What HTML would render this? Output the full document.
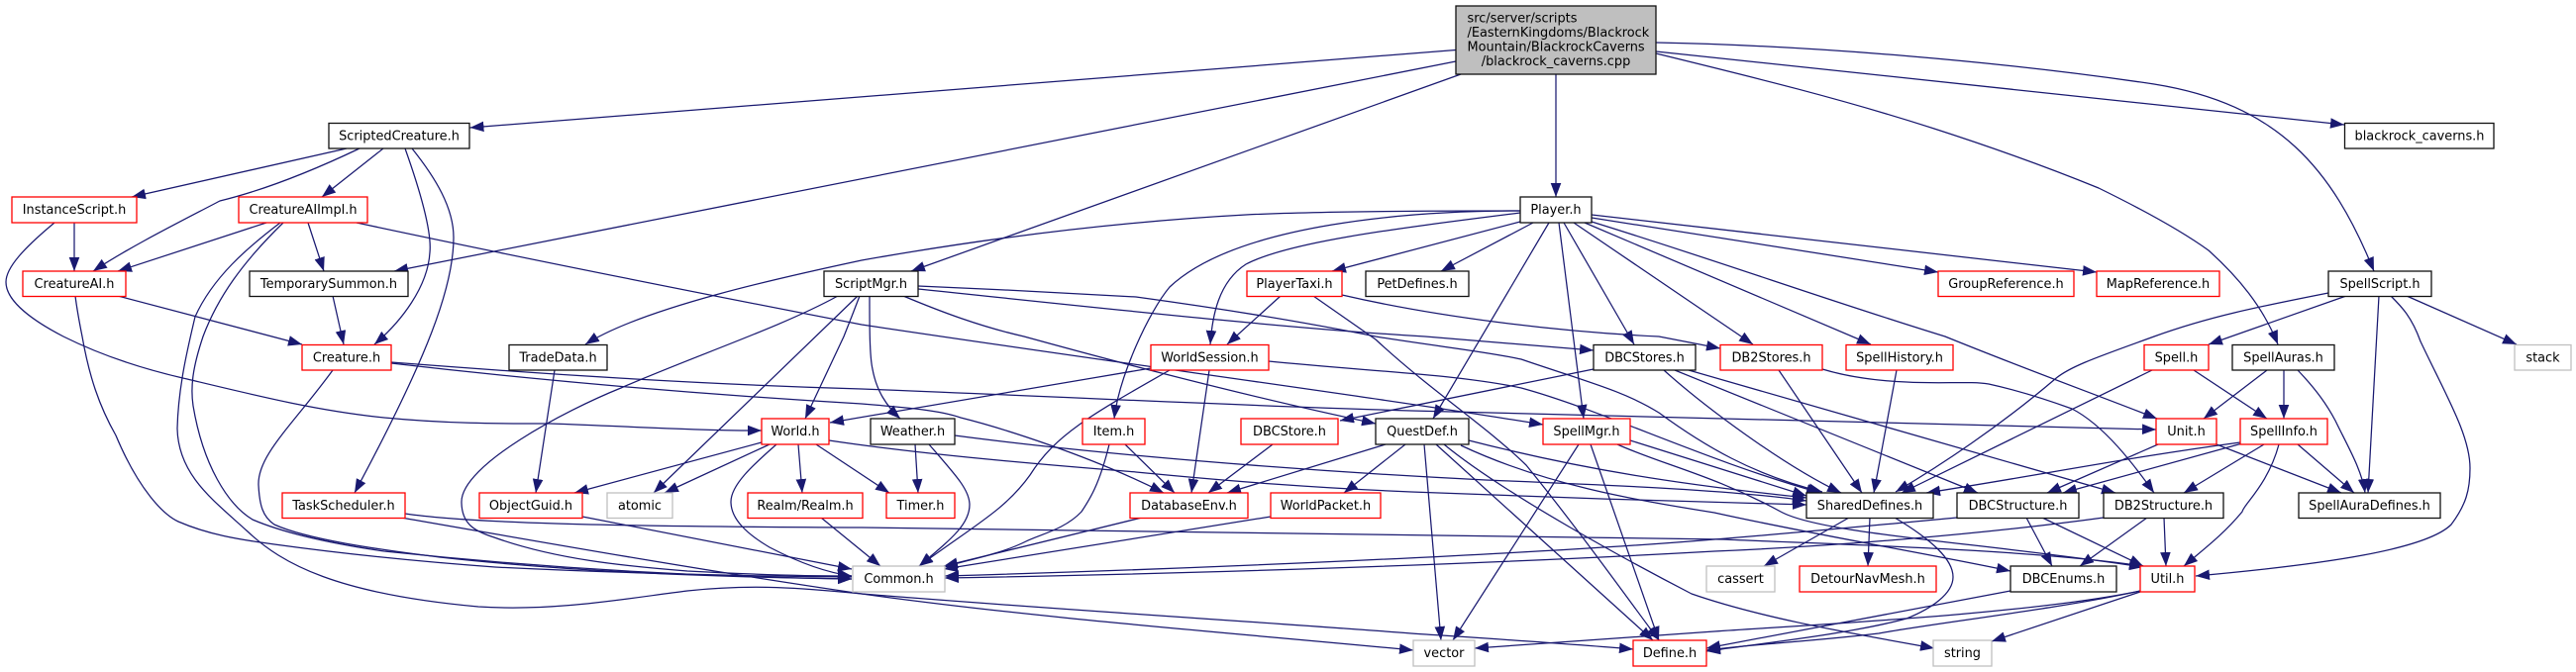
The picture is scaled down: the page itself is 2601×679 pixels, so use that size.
<!DOCTYPE html>
<html>
<head>
<meta charset="utf-8">
<title>blackrock_caverns.cpp include graph</title>
<style>
html,body{margin:0;padding:0;background:#fff;width:2601px;height:679px;overflow:hidden}
svg{display:block}
.e path{fill:none;stroke:#191970;stroke-width:1.25;marker-end:url(#a)}
rect{fill:#fff;stroke-width:1.3}
.r{stroke:#f00}.k{stroke:#111}.g{stroke:#bfbfbf}
text{font-family:"DejaVu Sans",sans-serif;font-size:12.9px;fill:#000;text-anchor:middle}
</style>
</head>
<body>
<svg width="2601" height="679" viewBox="0 0 2601 679" xmlns="http://www.w3.org/2000/svg">
<defs>
<marker id="a" markerUnits="userSpaceOnUse" markerWidth="16" markerHeight="13" refX="14" refY="6" orient="auto">
<polygon points="0,0.7 14,6 0,11.3" fill="#191970"/>
</marker>
</defs>
<g class="e">
<path d="M1470 50.5L474.5 129"/>
<path d="M1470 62L398 274"/>
<path d="M1475 75L920 274"/>
<path d="M1571 75L1571 199"/>
<path d="M1672 52L2367 126"/>
<path d="M1672 43C1830 46 2020 62 2175 85C2300 105 2355 170 2397 274"/>
<path d="M1672 54C1770 78 1860 100 1953 130C2015 150 2070 170 2119 190C2170 215 2205 235 2230 253C2260 280 2285 310 2300 348"/>
<path d="M350 150L133 199"/>
<path d="M363 150C300 180 255 195 222 203C180 225 130 250 94 274"/>
<path d="M387 150L325 199"/>
<path d="M409 150C425 195 436 235 434 255C432 290 405 325 378 348"/>
<path d="M416 150C440 180 458 210 458 240C458 290 432 360 358 498"/>
<path d="M75 225L75 274"/>
<path d="M55 225C25 250 6 270 6 285C6 305 35 325 64 340C100 358 140 372 189 383C260 400 320 415 388 422C450 428 500 428 555 428C640 431 700 435 769 435"/>
<path d="M269 225L119 274"/>
<path d="M311 225L327 274"/>
<path d="M286 225C245 265 220 300 205 340C195 370 192 390 195 410C205 470 230 510 255 525C290 540 340 550 388 557C540 573 700 583 860 585"/>
<path d="M283 225C250 250 215 280 197 320C190 350 180 390 179 433C180 480 215 505 250 537C285 570 340 600 483 613C560 618 630 605 694 597C760 590 810 594 870 600C1050 615 1300 630 1425 640C1500 645 1580 650 1649 656"/>
<path d="M360 225C500 255 700 295 870 328C1150 370 1380 400 1558 429"/>
<path d="M76 299C78 315 80 325 83 340C90 380 100 410 117 440C140 495 165 520 180 527C210 540 240 545 277 550C350 560 430 568 500 573C620 579 740 582 860 583"/>
<path d="M119 299L305 348"/>
<path d="M336 299L347 348"/>
<path d="M336 374C295 430 260 460 261 490C262 510 265 522 277 530C310 545 380 555 444 563C580 578 720 583 860 585"/>
<path d="M395 366C550 378 700 388 870 393C1100 402 1250 410 1425 415C1650 420 1900 428 2177 434"/>
<path d="M395 367C550 385 700 398 870 408C920 412 950 415 970 422C1010 432 1100 460 1175 498"/>
<path d="M560 374L541 498"/>
<path d="M1535 213C1400 213 1320 214 1258 217C1130 224 1000 240 870 263C800 278 650 310 591 348"/>
<path d="M846 299C790 330 700 360 627 392C570 415 466 470 466 507C466 530 480 537 499 543C560 565 630 572 694 577C750 580 810 582 860 582"/>
<path d="M866 299L660 498"/>
<path d="M868 299C860 320 852 340 852 340L813 423"/>
<path d="M878 299C878 330 878 360 881 373C885 395 895 410 909 423"/>
<path d="M912 299C950 315 990 330 1034 340C1150 372 1280 405 1389 428"/>
<path d="M927 292C1100 310 1300 332 1439 340C1500 345 1560 350 1609 354"/>
<path d="M927 289C1000 292 1100 297 1147 300C1220 310 1300 322 1389 340C1450 350 1500 355 1536 363C1600 385 1640 395 1675 417C1720 450 1770 480 1840 497"/>
<path d="M1293 299L1239 348"/>
<path d="M1355 298C1450 320 1570 335 1675 340L1737 352"/>
<path d="M1326 299L1389 343C1445 395 1500 430 1541 470C1590 530 1640 600 1675 647"/>
<path d="M1535 215C1400 232 1300 245 1258 267C1230 285 1224 320 1222 348"/>
<path d="M1535 213C1430 213 1250 225 1181 290C1160 315 1130 380 1125 423"/>
<path d="M1535 224L1345 274"/>
<path d="M1548 225L1455 274"/>
<path d="M1564 225L1447 423"/>
<path d="M1574 225L1599 423"/>
<path d="M1579 225L1650 348"/>
<path d="M1589 225L1770 348"/>
<path d="M1600 225L1889 348"/>
<path d="M1607 224C1730 262 1850 305 1964 340C2050 375 2120 400 2178 423"/>
<path d="M1607 220L1957 275"/>
<path d="M1607 217L2117 275"/>
<path d="M2351 296C2280 310 2230 320 2175 340C2120 360 2090 370 2075 383C2020 430 1960 470 1914 497"/>
<path d="M2369 299L2230 348"/>
<path d="M2402 299L2391 498"/>
<path d="M2414 299C2425 310 2435 320 2444 345C2470 400 2494 440 2494 473C2494 495 2490 510 2475 530C2450 555 2350 570 2217 582"/>
<path d="M2430 299L2541 348"/>
<path d="M2173 374L1920 498"/>
<path d="M2215 374L2289 423"/>
<path d="M2289 374L2225 423"/>
<path d="M2306 374L2306 423"/>
<path d="M2320 374C2340 395 2350 410 2358 425C2370 450 2385 475 2388 498"/>
<path d="M2238 449L2364 498"/>
<path d="M2179 449L2067 498"/>
<path d="M2262 447C2150 462 2060 480 1945 498"/>
<path d="M2264 448L2083 498"/>
<path d="M2286 449L2205 498"/>
<path d="M2301 449C2290 490 2265 510 2264 517C2245 540 2225 555 2205 572"/>
<path d="M2320 449L2377 498"/>
<path d="M1796 374L1880 498"/>
<path d="M1840 373C1870 382 1900 385 1925 386C1960 388 1990 385 2008 388C2040 395 2070 405 2092 413C2125 430 2155 470 2175 498"/>
<path d="M1915 374L1892 498"/>
<path d="M1609 373L1353 425"/>
<path d="M1680 374C1720 410 1800 470 1859 498"/>
<path d="M1691 374L1997 498"/>
<path d="M1705 374L2136 498"/>
<path d="M1162 372L838 427"/>
<path d="M1181 374C1100 420 1065 440 1040 480C1015 515 985 530 928 572"/>
<path d="M1221 374L1203 498"/>
<path d="M1281 365C1380 375 1470 378 1536 392C1620 415 1720 465 1838 498"/>
<path d="M924 449L927 498"/>
<path d="M938 449C965 480 979 495 979 510C979 530 960 545 928 572"/>
<path d="M964 440C1100 458 1300 475 1500 485C1620 490 1750 495 1824 506"/>
<path d="M1136 449L1186 498"/>
<path d="M1120 449C1110 490 1100 505 1092 517C1075 535 1050 540 1036 547C1010 560 980 565 953 573"/>
<path d="M1285 449L1220 498"/>
<path d="M1399 449L1239 498"/>
<path d="M1419 449L1357 498"/>
<path d="M1438 449L1455 647"/>
<path d="M1450 449L1669 647"/>
<path d="M1458 449C1520 500 1650 570 1708 600C1780 625 1870 640 1953 655"/>
<path d="M1483 445C1600 475 1700 490 1824 503"/>
<path d="M1475 450C1560 490 1650 505 1731 518C1830 540 1950 560 2030 577"/>
<path d="M837 445C950 462 1100 473 1147 477C1250 487 1330 493 1425 497C1550 502 1700 507 1824 510"/>
<path d="M409 519C470 528 600 532 870 533C1200 537 1500 540 1740 545C1850 550 2050 555 2164 572"/>
<path d="M1633 449C1680 470 1730 480 1798 517C1840 540 2000 548 2164 573"/>
<path d="M405 523C560 550 700 575 870 600C1050 625 1250 640 1427 657"/>
<path d="M588 522L860 575"/>
<path d="M769 447L580 498"/>
<path d="M777 449L671 498"/>
<path d="M784 449C760 470 738 490 738 507C738 525 755 540 777 553C800 565 830 578 860 582"/>
<path d="M806 449L810 498"/>
<path d="M824 449L898 498"/>
<path d="M829 523L889 572"/>
<path d="M1153 523L953 572"/>
<path d="M1283 522L953 575"/>
<path d="M1594 449L1467 647"/>
<path d="M1606 449L1675 647"/>
<path d="M1646 445L1824 501"/>
<path d="M1867 523L1781 572"/>
<path d="M1888 523L1886 572"/>
<path d="M1913 523C1950 545 1972 565 1972 583C1972 600 1950 615 1925 625C1870 640 1780 650 1723 658"/>
<path d="M1976 523C1900 530 1820 538 1731 545C1550 560 1200 575 954 582"/>
<path d="M2124 523C2000 540 1850 552 1731 557C1500 570 1200 580 954 584"/>
<path d="M2046 523L2072 572"/>
<path d="M2062 523L2164 572"/>
<path d="M2168 523L2100 572"/>
<path d="M2185 523L2187 572"/>
<path d="M2030 597L1723 655"/>
<path d="M2161 597C2050 620 1850 630 1731 638L1489 655"/>
<path d="M2161 597C2080 615 1950 630 1897 640C1830 648 1780 650 1723 657"/>
<path d="M2161 598L2011 648"/>
</g>

<rect class="k" x="1470" y="6" width="202" height="69" style="fill:#bfbfbf"/>
<text x="1481.5" y="22.5" style="text-anchor:start">src/server/scripts</text>
<text x="1481.5" y="37" style="text-anchor:start">/EasternKingdoms/Blackrock</text>
<text x="1481.5" y="51.5" style="text-anchor:start">Mountain/BlackrockCaverns</text>
<text x="1571" y="66">/blackrock_caverns.cpp</text>

<rect class="k" x="332" y="124.5" width="142" height="25.5"/><text x="403" y="141.5">ScriptedCreature.h</text>
<rect class="k" x="2367.5" y="124.5" width="150.5" height="25.5"/><text x="2443" y="141.5">blackrock_caverns.h</text>

<rect class="r" x="12" y="199" width="126" height="26"/><text x="75" y="216">InstanceScript.h</text>
<rect class="r" x="241" y="199" width="130" height="26"/><text x="306" y="216">CreatureAIImpl.h</text>
<rect class="k" x="1535" y="199" width="72" height="26"/><text x="1571" y="216">Player.h</text>

<rect class="r" x="23" y="274" width="104" height="25.5"/><text x="75" y="291">CreatureAI.h</text>
<rect class="k" x="252" y="274" width="160" height="25.5"/><text x="332" y="291">TemporarySummon.h</text>
<rect class="k" x="832" y="274" width="95" height="25.5"/><text x="879.5" y="291">ScriptMgr.h</text>
<rect class="r" x="1259" y="274" width="96" height="25.5"/><text x="1307" y="291">PlayerTaxi.h</text>
<rect class="k" x="1379" y="274" width="104" height="25.5"/><text x="1431" y="291">PetDefines.h</text>
<rect class="r" x="1957" y="274" width="137" height="25.5"/><text x="2025.5" y="291">GroupReference.h</text>
<rect class="r" x="2117" y="274" width="124" height="25.5"/><text x="2179" y="291">MapReference.h</text>
<rect class="k" x="2351" y="274" width="104" height="25.5"/><text x="2403" y="291">SpellScript.h</text>

<rect class="r" x="305" y="348.5" width="90" height="25.5"/><text x="350" y="365.5">Creature.h</text>
<rect class="k" x="514" y="348.5" width="99" height="25.5"/><text x="563.5" y="365.5">TradeData.h</text>
<rect class="r" x="1162" y="348.5" width="119" height="25.5"/><text x="1221.5" y="365.5">WorldSession.h</text>
<rect class="k" x="1609" y="348.5" width="103" height="25.5"/><text x="1660.5" y="365.5">DBCStores.h</text>
<rect class="r" x="1737" y="348.5" width="103" height="25.5"/><text x="1788.5" y="365.5">DB2Stores.h</text>
<rect class="r" x="1864" y="348.5" width="108" height="25.5"/><text x="1918" y="365.5">SpellHistory.h</text>
<rect class="r" x="2165" y="348.5" width="65" height="25.5"/><text x="2197.5" y="365.5">Spell.h</text>
<rect class="k" x="2254" y="348.5" width="103" height="25.5"/><text x="2305.5" y="365.5">SpellAuras.h</text>
<rect class="g" x="2539" y="348.5" width="57" height="25.5"/><text x="2567.5" y="365.5">stack</text>

<rect class="r" x="769" y="423" width="68" height="26"/><text x="803" y="440">World.h</text>
<rect class="k" x="879" y="423" width="85" height="26"/><text x="921.5" y="440">Weather.h</text>
<rect class="r" x="1093" y="423" width="63" height="26"/><text x="1124.5" y="440">Item.h</text>
<rect class="r" x="1253" y="423" width="98" height="26"/><text x="1302" y="440">DBCStore.h</text>
<rect class="k" x="1389" y="423" width="94" height="26"/><text x="1436" y="440">QuestDef.h</text>
<rect class="r" x="1558" y="423" width="88" height="26"/><text x="1602" y="440">SpellMgr.h</text>
<rect class="r" x="2177" y="423" width="61" height="26"/><text x="2207.5" y="440">Unit.h</text>
<rect class="r" x="2262" y="423" width="88" height="26"/><text x="2306" y="440">SpellInfo.h</text>

<rect class="r" x="285" y="498" width="124" height="25.5"/><text x="347" y="515">TaskScheduler.h</text>
<rect class="r" x="484" y="498" width="104" height="25.5"/><text x="536" y="515">ObjectGuid.h</text>
<rect class="g" x="613" y="498" width="66" height="25.5"/><text x="646" y="515">atomic</text>
<rect class="r" x="755" y="498" width="116" height="25.5"/><text x="813" y="515">Realm/Realm.h</text>
<rect class="r" x="895" y="498" width="69" height="25.5"/><text x="929.5" y="515">Timer.h</text>
<rect class="r" x="1141" y="498" width="119" height="25.5"/><text x="1200.5" y="515">DatabaseEnv.h</text>
<rect class="r" x="1283" y="498" width="111" height="25.5"/><text x="1338.5" y="515">WorldPacket.h</text>
<rect class="k" x="1824" y="498" width="128" height="25.5"/><text x="1888" y="515">SharedDefines.h</text>
<rect class="k" x="1976" y="498" width="123" height="25.5"/><text x="2037.5" y="515">DBCStructure.h</text>
<rect class="k" x="2124" y="498" width="121" height="25.5"/><text x="2184.5" y="515">DB2Structure.h</text>
<rect class="k" x="2321" y="498" width="143" height="25.5"/><text x="2392.5" y="515">SpellAuraDefines.h</text>

<rect class="g" x="861" y="572" width="93" height="26"/><text x="907.5" y="589">Common.h</text>
<rect class="g" x="1723" y="572" width="69" height="26"/><text x="1757.5" y="589">cassert</text>
<rect class="r" x="1817" y="572" width="138" height="26"/><text x="1886" y="589">DetourNavMesh.h</text>
<rect class="k" x="2030" y="572" width="107" height="26"/><text x="2083.5" y="589">DBCEnums.h</text>
<rect class="r" x="2161" y="572" width="55" height="26"/><text x="2188.5" y="589">Util.h</text>

<rect class="g" x="1427" y="647" width="62" height="26"/><text x="1458" y="664">vector</text>
<rect class="r" x="1649" y="647" width="74" height="26"/><text x="1686" y="664">Define.h</text>
<rect class="g" x="1952" y="647" width="59" height="26"/><text x="1981.5" y="664">string</text>
</svg>
</body>
</html>
